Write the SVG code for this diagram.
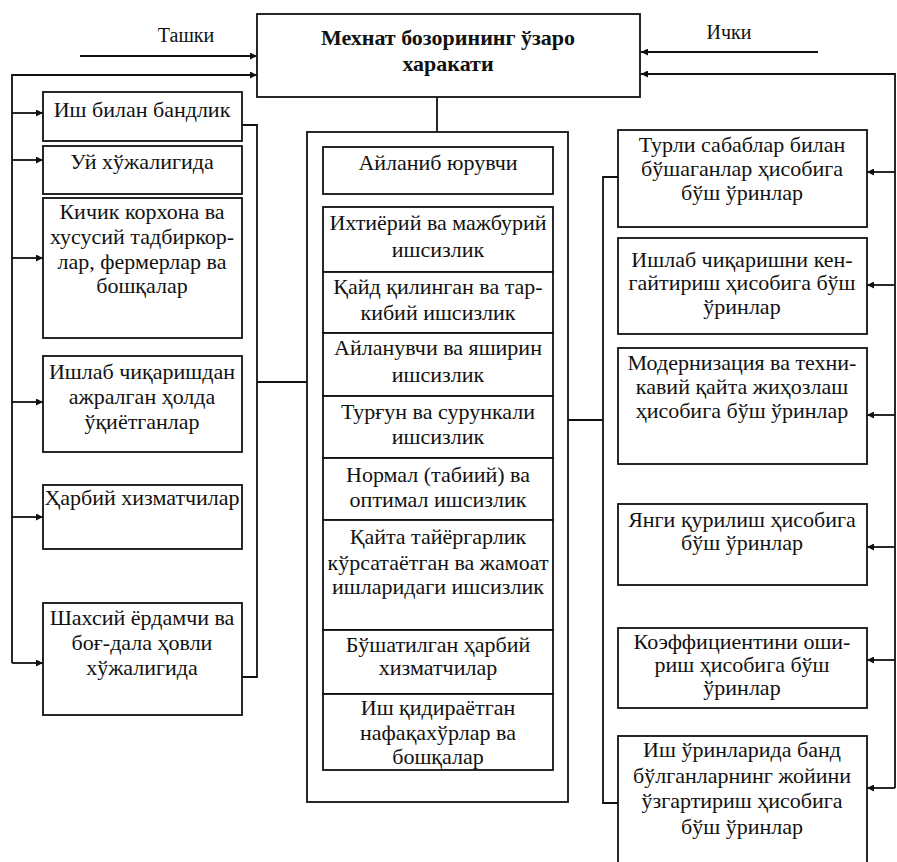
<svg xmlns="http://www.w3.org/2000/svg" width="897" height="862" viewBox="0 0 897 862">
  <style>
    .box { fill: #fff; stroke: #111; stroke-width: 1.8; }
    .wire { fill: none; stroke: #111; stroke-width: 1.8; }
    .t { font-family: "Liberation Serif", "Times New Roman", serif; font-size: 22px; fill: #111; text-anchor: middle; }
    .title { font-family: "Liberation Serif", "Times New Roman", serif; font-size: 22px; font-weight: bold; fill: #111; text-anchor: middle; }
    .lbl { font-family: "Liberation Serif", "Times New Roman", serif; font-size: 20px; fill: #111; text-anchor: middle; }
  </style>
  <defs>
    <marker id="arr" viewBox="0 0 10 10" refX="10" refY="5" markerWidth="8" markerHeight="7" markerUnits="userSpaceOnUse" orient="auto">
      <path d="M0,0 L10,5 L0,10 Z" fill="#111"/>
    </marker>
  </defs>
  <rect width="897" height="862" fill="#fff"/>

  <!-- connectors -->
  <g id="connectors">
    <!-- external inflow -->
    <line class="wire" x1="80" y1="56" x2="257" y2="56" marker-end="url(#arr)"/>
    <polyline class="wire" points="12,663 12,75 257,75" marker-end="url(#arr)"/>
    <line class="wire" x1="12" y1="113" x2="43" y2="113" marker-end="url(#arr)"/>
    <line class="wire" x1="12" y1="160" x2="43" y2="160" marker-end="url(#arr)"/>
    <line class="wire" x1="12" y1="258" x2="43" y2="258" marker-end="url(#arr)"/>
    <line class="wire" x1="12" y1="402" x2="43" y2="402" marker-end="url(#arr)"/>
    <line class="wire" x1="12" y1="517" x2="43" y2="517" marker-end="url(#arr)"/>
    <line class="wire" x1="12" y1="663" x2="43" y2="663" marker-end="url(#arr)"/>
    <!-- left bracket to unemployment block -->
    <polyline class="wire" points="242,125 257,125 257,677 242,677"/>
    <line class="wire" x1="257" y1="382" x2="307" y2="382"/>
    <!-- title to unemployment block -->
    <line class="wire" x1="437" y1="97" x2="437" y2="132"/>
    <!-- unemployment block to vacancies bracket -->
    <line class="wire" x1="568" y1="420" x2="603" y2="420"/>
    <polyline class="wire" points="618,177 603,177 603,803 618,803"/>
    <!-- internal inflow -->
    <line class="wire" x1="818" y1="52" x2="641" y2="52" marker-end="url(#arr)"/>
    <polyline class="wire" points="895,788 895,74 641,74" marker-end="url(#arr)"/>
    <line class="wire" x1="895" y1="172" x2="867" y2="172" marker-end="url(#arr)"/>
    <line class="wire" x1="895" y1="285" x2="867" y2="285" marker-end="url(#arr)"/>
    <line class="wire" x1="895" y1="415" x2="867" y2="415" marker-end="url(#arr)"/>
    <line class="wire" x1="895" y1="547" x2="867" y2="547" marker-end="url(#arr)"/>
    <line class="wire" x1="895" y1="660" x2="867" y2="660" marker-end="url(#arr)"/>
    <line class="wire" x1="895" y1="788" x2="867" y2="788" marker-end="url(#arr)"/>
  </g>

  <text class="lbl" x="186" y="42">Ташки</text>
  <text class="lbl" x="729" y="39">Ички</text>

  <!-- title -->
  <g id="title">
    <rect class="box" x="257" y="14" width="383" height="83"/>
    <text class="title" x="448" y="45">Мехнат бозорининг ўзаро</text>
    <text class="title" x="448" y="71">харакати</text>
  </g>

  <!-- left column -->
  <g id="l1">
    <rect class="box" x="43" y="92" width="199" height="49"/>
    <text class="t" x="142" y="117">Иш билан бандлик</text>
  </g>
  <g id="l2">
    <rect class="box" x="43" y="146" width="199" height="48"/>
    <text class="t" x="142" y="169">Уй хўжалигида</text>
  </g>
  <g id="l3">
    <rect class="box" x="43" y="198" width="199" height="140"/>
    <text class="t" x="142" y="219">Кичик корхона ва</text>
    <text class="t" x="142" y="244">хусусий тадбиркор-</text>
    <text class="t" x="142" y="269">лар, фермерлар ва</text>
    <text class="t" x="142" y="293">бошқалар</text>
  </g>
  <g id="l4">
    <rect class="box" x="43" y="356" width="199" height="96"/>
    <text class="t" x="142" y="379">Ишлаб чиқаришдан</text>
    <text class="t" x="142" y="404">ажралган ҳолда</text>
    <text class="t" x="142" y="429">ўқиётганлар</text>
  </g>
  <g id="l5">
    <rect class="box" x="43" y="485" width="199" height="64"/>
    <text class="t" x="142" y="505">Ҳарбий хизматчилар</text>
  </g>
  <g id="l6">
    <rect class="box" x="43" y="603" width="199" height="112"/>
    <text class="t" x="142" y="625">Шахсий ёрдамчи ва</text>
    <text class="t" x="142" y="650">боғ-дала ҳовли</text>
    <text class="t" x="142" y="675">хўжалигида</text>
  </g>

  <!-- middle column -->
  <g id="mid">
    <rect class="box" x="307" y="132" width="261" height="670"/>
  </g>
  <g id="m0">
    <rect class="box" x="323" y="147" width="230" height="47"/>
    <text class="t" x="438" y="170">Айланиб юрувчи</text>
  </g>
  <g id="m1">
    <rect class="box" x="323" y="207" width="230" height="65"/>
    <text class="t" x="438" y="230">Ихтиёрий ва мажбурий</text>
    <text class="t" x="438" y="257">ишсизлик</text>
  </g>
  <g id="m2">
    <rect class="box" x="323" y="272" width="230" height="61"/>
    <text class="t" x="438" y="294">Қайд қилинган ва тар-</text>
    <text class="t" x="438" y="320">кибий ишсизлик</text>
  </g>
  <g id="m3">
    <rect class="box" x="323" y="333" width="230" height="63"/>
    <text class="t" x="438" y="355">Айланувчи ва яширин</text>
    <text class="t" x="438" y="382">ишсизлик</text>
  </g>
  <g id="m4">
    <rect class="box" x="323" y="396" width="230" height="62"/>
    <text class="t" x="438" y="419">Турғун ва сурункали</text>
    <text class="t" x="438" y="444">ишсизлик</text>
  </g>
  <g id="m5">
    <rect class="box" x="323" y="458" width="230" height="62"/>
    <text class="t" x="438" y="482">Нормал (табиий) ва</text>
    <text class="t" x="438" y="507">оптимал ишсизлик</text>
  </g>
  <g id="m6">
    <rect class="box" x="323" y="520" width="230" height="110"/>
    <text class="t" x="438" y="544">Қайта тайёргарлик</text>
    <text class="t" x="438" y="570">кўрсатаётган ва жамоат</text>
    <text class="t" x="438" y="594">ишларидаги ишсизлик</text>
  </g>
  <g id="m7">
    <rect class="box" x="323" y="630" width="230" height="64"/>
    <text class="t" x="438" y="652">Бўшатилган ҳарбий</text>
    <text class="t" x="438" y="675">хизматчилар</text>
  </g>
  <g id="m8">
    <rect class="box" x="323" y="694" width="230" height="76"/>
    <text class="t" x="438" y="715">Иш қидираётган</text>
    <text class="t" x="438" y="740">нафақахўрлар ва</text>
    <text class="t" x="438" y="764">бошқалар</text>
  </g>

  <!-- right column -->
  <g id="r1">
    <rect class="box" x="618" y="130" width="249" height="97"/>
    <text class="t" x="742" y="152">Турли сабаблар билан</text>
    <text class="t" x="742" y="176">бўшаганлар ҳисобига</text>
    <text class="t" x="742" y="200">бўш ўринлар</text>
  </g>
  <g id="r2">
    <rect class="box" x="618" y="238" width="249" height="96"/>
    <text class="t" x="742" y="267">Ишлаб чиқаришни кен-</text>
    <text class="t" x="742" y="290">гайтириш ҳисобига бўш</text>
    <text class="t" x="742" y="314">ўринлар</text>
  </g>
  <g id="r3">
    <rect class="box" x="618" y="348" width="249" height="116"/>
    <text class="t" x="742" y="370">Модернизация ва техни-</text>
    <text class="t" x="742" y="394">кавий қайта жиҳозлаш</text>
    <text class="t" x="742" y="418">ҳисобига бўш ўринлар</text>
  </g>
  <g id="r4">
    <rect class="box" x="618" y="504" width="249" height="81"/>
    <text class="t" x="742" y="527">Янги қурилиш ҳисобига</text>
    <text class="t" x="742" y="550">бўш ўринлар</text>
  </g>
  <g id="r5">
    <rect class="box" x="618" y="628" width="249" height="80"/>
    <text class="t" x="742" y="649">Коэффициентини оши-</text>
    <text class="t" x="742" y="672">риш ҳисобига бўш</text>
    <text class="t" x="742" y="695">ўринлар</text>
  </g>
  <g id="r6">
    <rect class="box" x="618" y="736" width="249" height="134"/>
    <text class="t" x="742" y="757">Иш ўринларида банд</text>
    <text class="t" x="742" y="783">бўлганларнинг жойини</text>
    <text class="t" x="742" y="808">ўзгартириш ҳисобига</text>
    <text class="t" x="742" y="834">бўш ўринлар</text>
  </g>
</svg>
